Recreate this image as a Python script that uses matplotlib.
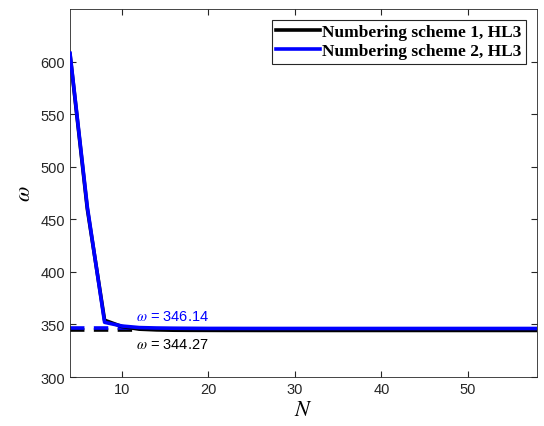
import numpy as np
import matplotlib.pyplot as plt

plt.rcParams['mathtext.fontset'] = 'stix'
plt.rcParams['font.family'] = 'Liberation Sans'

N = [4, 6, 8, 10, 12, 14, 16, 18, 20, 22, 24, 26, 28, 30, 32, 34, 36, 38, 40,
     42, 44, 46, 48, 50, 52, 54, 56, 58]
omega1 = [607.0, 460.0, 354.0, 348.0, 345.5, 344.8, 344.5, 344.4, 344.35, 344.3,
          344.3, 344.28, 344.28, 344.27, 344.27, 344.27, 344.27, 344.27, 344.27,
          344.27, 344.27, 344.27, 344.27, 344.27, 344.27, 344.27, 344.27, 344.27]
omega2 = [608.0, 462.0, 352.0, 348.5, 347.0, 346.6, 346.4, 346.3, 346.2, 346.2,
          346.17, 346.16, 346.15, 346.15, 346.14, 346.14, 346.14, 346.14, 346.14,
          346.14, 346.14, 346.14, 346.14, 346.14, 346.14, 346.14, 346.14, 346.14]
ref1 = 344.27
ref2 = 346.14

fig = plt.figure(figsize=(5.44, 4.27), dpi=100)
ax = fig.add_axes([70/544, 49/427, 467/544, 368/427])

# converged values as dashed reference lines (covered by the curves further right)
ax.plot([4, 12], [ref1, ref1], color='k', lw=2.6, ls=(0, (4, 2.6)), zorder=1)
ax.plot([4, 12], [ref2, ref2], color='b', lw=2.6, ls=(0, (4, 2.6)), zorder=1)
ax.plot(N, omega1, color='k', lw=2.6, label='Numbering scheme 1, HL3', zorder=2)
ax.plot(N, omega2, color='b', lw=2.6, label='Numbering scheme 2, HL3', zorder=3)

ax.text(11.6, 354, r'$\omega$ = %.2f' % ref2, color='b', fontsize=10.5)
ax.text(11.6, 328, r'$\omega$ = %.2f' % ref1, color='k', fontsize=10.5)

ax.set_xlim(4, 58)
ax.set_ylim(300, 650)
ax.set_xticks([10, 20, 30, 40, 50])
ax.set_yticks([300, 350, 400, 450, 500, 550, 600])
ax.tick_params(direction='in', top=True, right=True, labelsize=10.5,
               colors='#262626', length=4)
for s in ax.spines.values():
    s.set_color('#262626')
    s.set_linewidth(0.6)

ax.set_xlabel(r'$N$', fontsize=16, labelpad=2)
ax.set_ylabel(r'$\omega$', fontsize=16, labelpad=4)

leg = ax.legend(loc='upper right', bbox_to_anchor=(526/544, 406/427),
                bbox_transform=fig.transFigure,
                prop={'family': 'Liberation Serif', 'weight': 'bold', 'size': 12.5},
                fancybox=False, framealpha=1, edgecolor='#262626', borderpad=0.25,
                handlelength=2.5, handletextpad=0.15, labelspacing=0.15, borderaxespad=0)
leg.get_frame().set_linewidth(0.8)

fig.savefig('out.png', dpi=100)
